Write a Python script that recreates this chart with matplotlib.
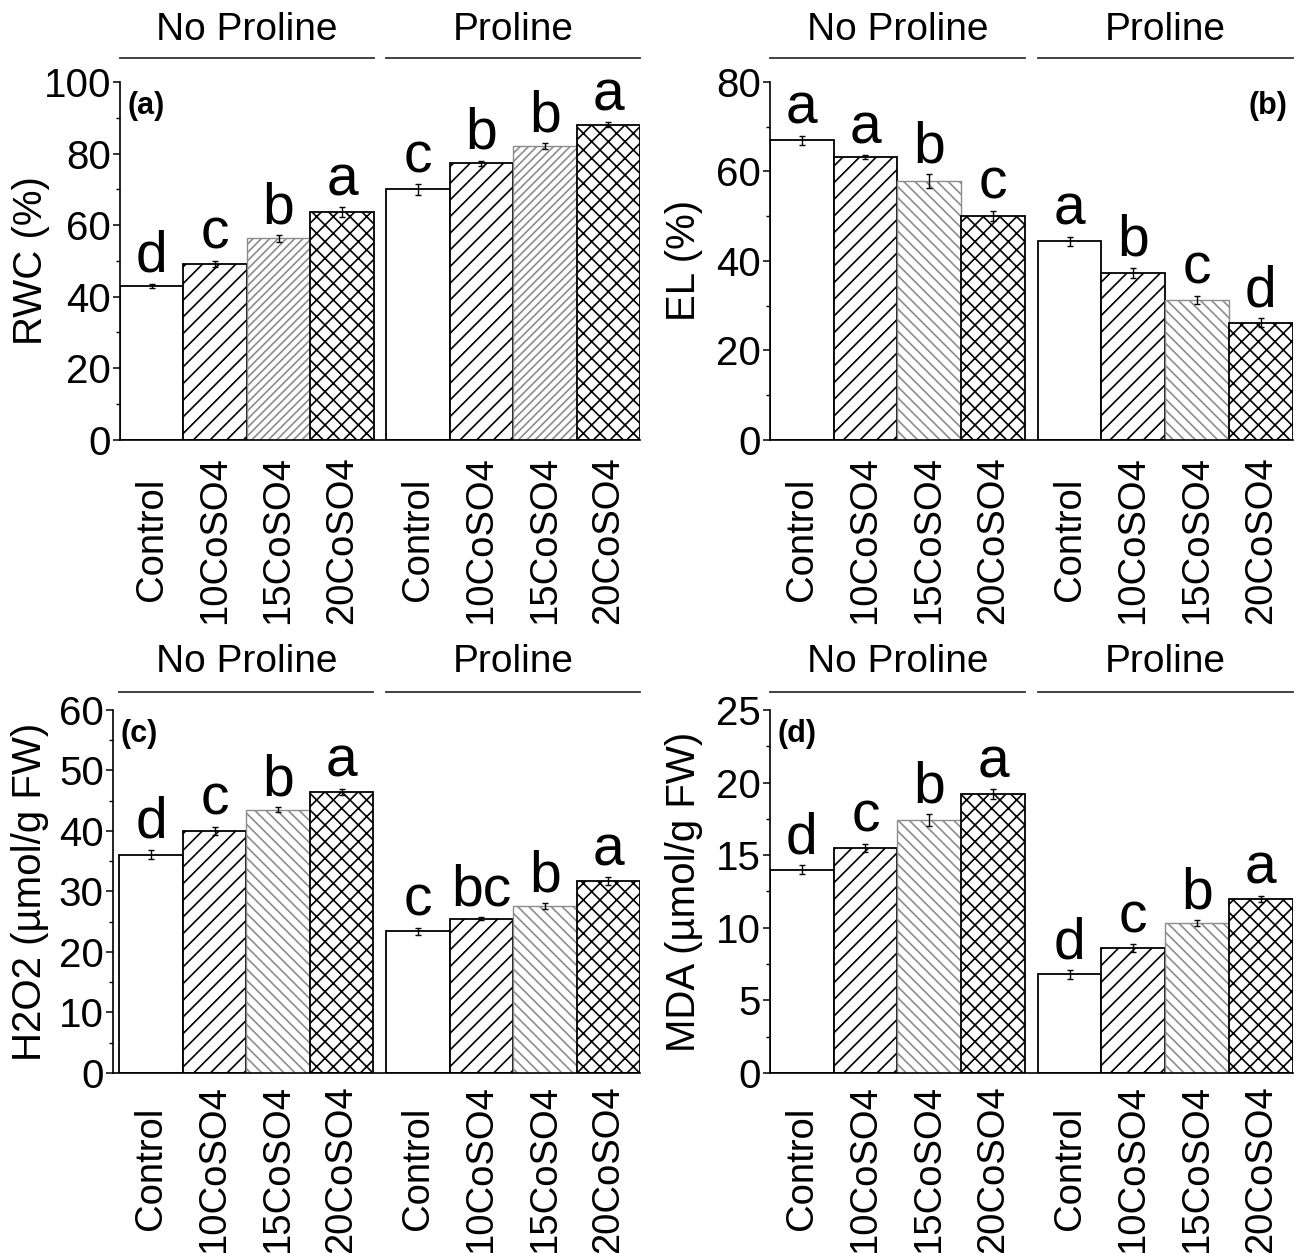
import matplotlib
matplotlib.use('Agg')
import matplotlib.pyplot as plt
import numpy as np
from matplotlib.transforms import blended_transform_factory
from matplotlib.ticker import MultipleLocator

plt.rcParams['font.family'] = ['Liberation Sans', 'DejaVu Sans']
plt.rcParams['hatch.linewidth'] = 1.2

treatments = ['Control', '10CoSO4', '15CoSO4', '20CoSO4']
groups = ['No Proline', 'Proline']

# (a) RWC
rwc_np = [43.0, 49.2, 56.3, 63.7]
rwc_np_err = [0.6, 0.9, 0.9, 1.3]
rwc_p = [70.0, 77.3, 82.0, 88.0]
rwc_p_err = [1.5, 0.7, 0.8, 0.7]
rwc_np_let = ['d', 'c', 'b', 'a']
rwc_p_let = ['c', 'b', 'b', 'a']

# (b) EL
el_np = [67.0, 63.2, 57.9, 50.1]
el_np_err = [1.0, 0.5, 1.5, 1.1]
el_p = [44.4, 37.3, 31.3, 26.2]
el_p_err = [1.0, 1.2, 0.9, 1.0]
el_np_let = ['a', 'a', 'b', 'c']
el_p_let = ['a', 'b', 'c', 'd']

# (c) H2O2
h2o2_np = [36.1, 40.0, 43.5, 46.5]
h2o2_np_err = [0.8, 0.7, 0.4, 0.5]
h2o2_p = [23.4, 25.5, 27.6, 31.7]
h2o2_p_err = [0.6, 0.3, 0.5, 0.7]
h2o2_np_let = ['d', 'c', 'b', 'a']
h2o2_p_let = ['c', 'bc', 'b', 'a']

# (d) MDA
mda_np = [14.0, 15.5, 17.4, 19.2]
mda_np_err = [0.3, 0.3, 0.4, 0.35]
mda_p = [6.8, 8.6, 10.3, 12.0]
mda_p_err = [0.3, 0.25, 0.2, 0.2]
mda_np_let = ['d', 'c', 'b', 'a']
mda_p_let = ['d', 'c', 'b', 'a']

panels = [
    dict(rect=[0.0925, 0.649, 0.4005, 0.2856], np_v=rwc_np, np_e=rwc_np_err, p_v=rwc_p, p_e=rwc_p_err,
         np_l=rwc_np_let, p_l=rwc_p_let, ylim=100, major=20, minor=10, ylabel='RWC (%)',
         tag='(a)', tag_right=False, h15='////', lab_x=-0.172, line_y=1.067, text_y=1.145, pad=72,
         xmin=-0.5),
    dict(rect=[0.593, 0.649, 0.403, 0.2856], np_v=el_np, np_e=el_np_err, p_v=el_p, p_e=el_p_err,
         np_l=el_np_let, p_l=el_p_let, ylim=80, major=20, minor=10, ylabel='EL (%)',
         tag='(b)', tag_right=True, h15='\\\\\\', lab_x=-0.163, line_y=1.067, text_y=1.145, pad=72,
         xmin=-0.5),
    dict(rect=[0.0870, 0.1437, 0.4061, 0.2897], np_v=h2o2_np, np_e=h2o2_np_err, p_v=h2o2_p, p_e=h2o2_p_err,
         np_l=h2o2_np_let, p_l=h2o2_p_let, ylim=60, major=10, minor=5, ylabel='H2O2 (µmol/g FW)',
         tag='(c)', tag_right=False, h15='\\\\\\', lab_x=-0.158, line_y=1.05, text_y=1.132, pad=69,
         xmin=-0.6),
    dict(rect=[0.593, 0.1437, 0.403, 0.2897], np_v=mda_np, np_e=mda_np_err, p_v=mda_p, p_e=mda_p_err,
         np_l=mda_np_let, p_l=mda_p_let, ylim=25, major=5, minor=2.5, ylabel='MDA (µmol/g FW)',
         tag='(d)', tag_right=False, h15='\\\\\\', lab_x=-0.163, line_y=1.05, text_y=1.132, pad=69,
         xmin=-0.5),
]

fig = plt.figure(figsize=(12.98, 12.53), dpi=100)

x_np = np.arange(4, dtype=float)
x_p = np.arange(4, dtype=float) + 4.2

for P in panels:
    ax = fig.add_axes(P['rect'])
    styles = [
        dict(hatch=None, edgecolor='black', linewidth=1.3),
        dict(hatch='//', edgecolor='black', linewidth=1.3),
        dict(hatch=P['h15'], edgecolor='#8c8c8c', linewidth=1.0),
        dict(hatch='xx', edgecolor='black', linewidth=1.3),
    ]
    for xs, vals, errs, lets in [(x_np, P['np_v'], P['np_e'], P['np_l']),
                                 (x_p, P['p_v'], P['p_e'], P['p_l'])]:
        for i in range(4):
            ax.bar(xs[i], vals[i], width=1.0, facecolor='white', **styles[i], zorder=2)
        ax.errorbar(xs, vals, yerr=errs, fmt='none', ecolor='black', elinewidth=1.0,
                    capsize=2.5, capthick=1.0, zorder=3)
        for i in range(4):
            ax.annotate(lets[i], (xs[i], vals[i] + errs[i]), xytext=(0, 8.5),
                        textcoords='offset points', ha='center', va='baseline',
                        fontsize=41)
    ax.set_xlim(P['xmin'], 7.7)
    ax.set_ylim(0, P['ylim'])
    ax.yaxis.set_major_locator(MultipleLocator(P['major']))
    ax.yaxis.set_minor_locator(MultipleLocator(P['minor']))
    for s in ['top', 'right']:
        ax.spines[s].set_visible(False)
    for s in ['left', 'bottom']:
        ax.spines[s].set_linewidth(1.2)
    ax.tick_params(axis='y', which='major', direction='out', length=5, width=1.1,
                   labelsize=29, pad=1.5)
    ax.tick_params(axis='y', which='minor', direction='out', length=3, width=1.0)
    xt = np.concatenate([x_np, x_p])
    ax.set_xticks(xt)
    ax.set_xticklabels(treatments + treatments, rotation=90, fontsize=27.5)
    ax.tick_params(axis='x', length=0, pad=P['pad'])
    for lbl in ax.get_xticklabels():
        lbl.set_va('center')
    ax.set_ylabel(P['ylabel'], fontsize=29, va='center')
    ax.yaxis.set_label_coords(P['lab_x'], 0.5)

    tr = blended_transform_factory(ax.transData, ax.transAxes)
    for xs, g in [(x_np, groups[0]), (x_p, groups[1])]:
        ax.plot([xs[0] - 0.5, xs[-1] + 0.5], [P['line_y'], P['line_y']], transform=tr,
                clip_on=False, color='#333333', lw=1.3)
        ax.text((xs[0] + xs[-1]) / 2, P['text_y'], g, transform=tr, ha='center', va='center',
                fontsize=28)
    if P['tag_right']:
        ax.text(0.99, 0.975, P['tag'], transform=ax.transAxes, ha='right', va='top',
                fontsize=22, fontweight='bold')
    else:
        ax.text(0.015, 0.975, P['tag'], transform=ax.transAxes, ha='left', va='top',
                fontsize=22, fontweight='bold')

fig.savefig('out.png', dpi=100)
